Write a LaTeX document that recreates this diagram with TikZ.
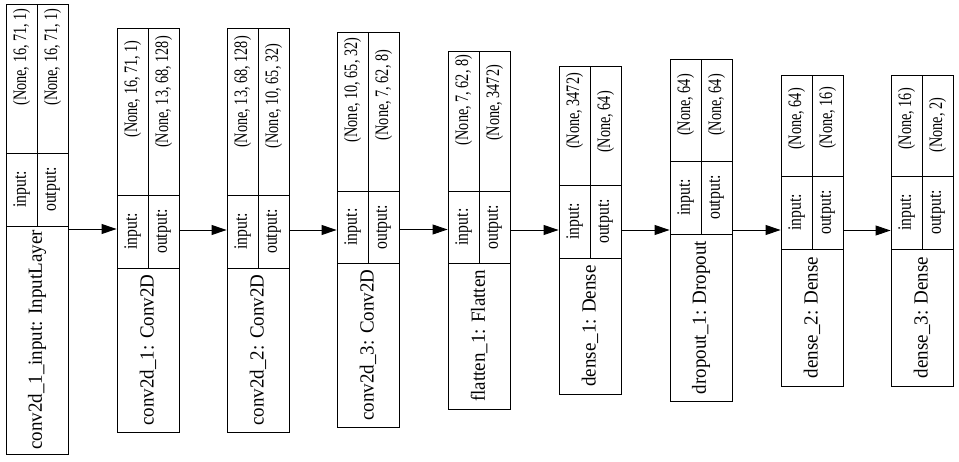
\documentclass[tikz,border=0pt]{standalone}
\usepackage{fontspec}
\setmainfont{Liberation Serif}
\newfontfamily\namefont[FakeStretch=0.95]{Liberation Serif}
\newfontfamily\valfont[FakeStretch=0.75]{Liberation Serif}
\newfontfamily\labfont[FakeStretch=0.83]{Liberation Serif}
\usetikzlibrary{arrows.meta}

\begin{document}
\begin{tikzpicture}[x=1pt, y=-1pt, >={Triangle[length=15pt,width=10pt]}, line width=0.9pt,
  layer/.style={draw, inner sep=0pt, minimum width=62pt},
  nametext/.style={rotate=90, inner sep=0pt, font=\namefont\fontsize{20}{23}\selectfont},
  labtext/.style={rotate=90, inner sep=0pt, font=\labfont\fontsize{19}{22}\selectfont},
  valtext/.style={rotate=90, inner sep=0pt, font=\valfont\fontsize{19}{22}\selectfont}]
\useasboundingbox[fill=white] (0,0) rectangle (959,461);
\foreach \i/\xa/\yt/\ya/\yb/\yc/\nm/\vin/\vout/\pin/\pout in {
  1/6/4/153/226/454/{conv2d\_1\_input: InputLayer}/{(None, 16, 71, 1)}/{(None, 16, 71, 1)}/57/57,
  2/117/28/195/268/432/{conv2d\_1: Conv2D}/{(None, 16, 71, 1)}/{(None, 13, 68, 128)}/89/92,
  3/227/28/195/268/432/{conv2d\_2: Conv2D}/{(None, 13, 68, 128)}/{(None, 10, 65, 32)}/92/96,
  4/337/32/191/263/427/{conv2d\_3: Conv2D}/{(None, 10, 65, 32)}/{(None, 7, 62, 8)}/90/95,
  5/448/51/191/263/409/{flatten\_1: Flatten}/{(None, 7, 62, 8)}/{(None, 3472)}/100/103,
  6/559/66/185/258/394/{dense\_1: Dense}/{(None, 3472)}/{(None, 64)}/111/122,
  7/670/59/161/234/401/{dropout\_1: Dropout}/{(None, 64)}/{(None, 64)}/105/105,
  8/781/75/176/249/386/{dense\_2: Dense}/{(None, 64)}/{(None, 16)}/119/118,
  9/891/75/176/249/386/{dense\_3: Dense}/{(None, 16)}/{(None, 2)}/119/125}{
  \node[layer, minimum height={(\yc-\yt)*1pt}] (b\i) at ({\xa+31},{(\yt+\yc)/2}) {};
  \draw (\xa,\ya) -- ({\xa+62},\ya);
  \draw (\xa,\yb) -- ({\xa+62},\yb);
  \draw ({\xa+31},\yt) -- ({\xa+31},\yb);
  \node[nametext] (nm\i) at ({\xa+31},{(\yb+\yc)/2}) {\nm};
  \node[labtext] (in\i) at ({\xa+15.5},{(\ya+\yb)/2}) {input:};
  \node[labtext] (out\i) at ({\xa+46.5},{(\ya+\yb)/2}) {output:};
  \node[valtext] (vin\i) at ({\xa+15.5},\pin) {\vin};
  \node[valtext] (vout\i) at ({\xa+46.5},\pout) {\vout};
}
\foreach \i [remember=\i as \j (initially 1)] in {2,...,9}
  \draw[->] (b\j.east) -- (b\i.west |- b\j.east);
\end{tikzpicture}
\end{document}
